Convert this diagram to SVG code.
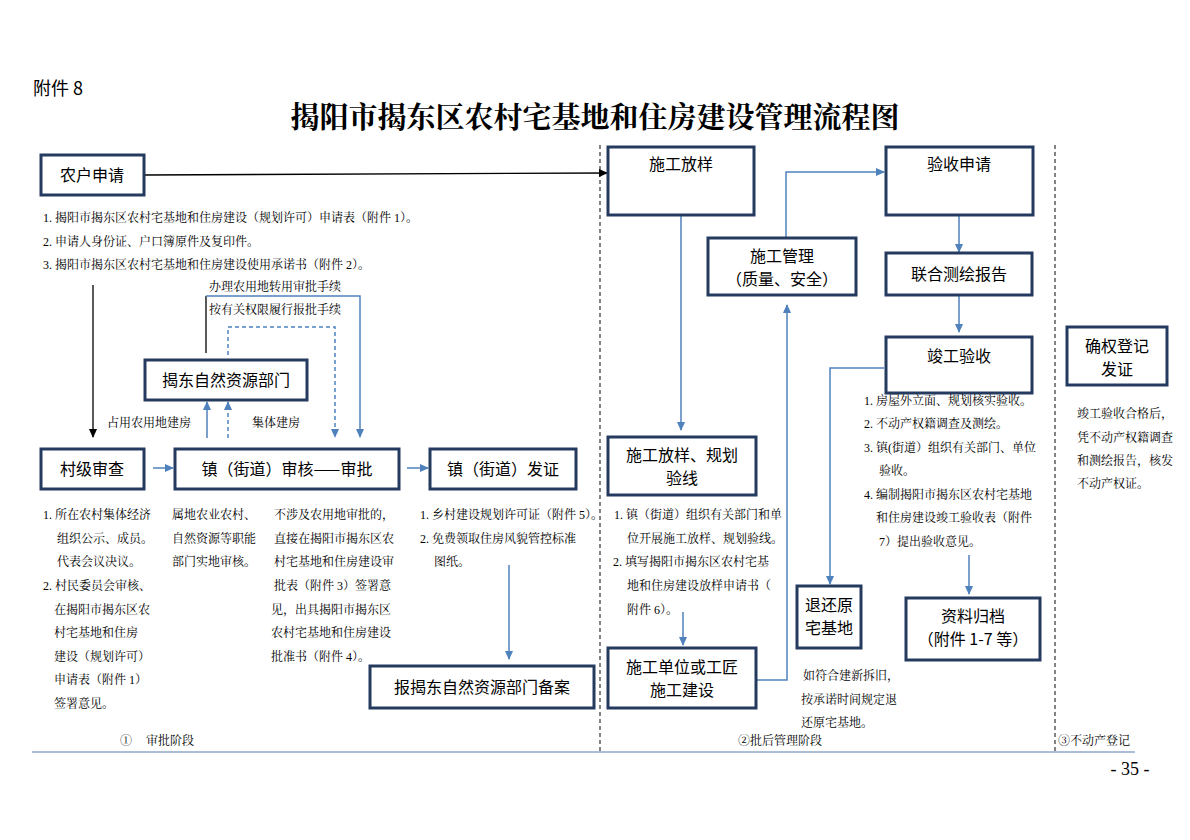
<svg xmlns="http://www.w3.org/2000/svg" width="1190" height="840" viewBox="0 0 1190 840">
<style>
.box{fill:#fff;stroke:#243a5e;stroke-width:3}
.bt{font-family:"Noto Sans CJK SC",sans-serif;font-size:16px;fill:#000;text-anchor:middle}
.st{font-family:"Liberation Serif","Noto Serif CJK SC","Noto Sans CJK SC",serif;font-size:12px;fill:#000}
.bl{stroke:#4f81bd;stroke-width:1.5;fill:none}
.bk{stroke:#000;stroke-width:1.3;fill:none}
.dv{stroke:#333;stroke-width:1.2;stroke-dasharray:4,3;fill:none}
</style>
<defs>
<marker id="ab" markerWidth="10" markerHeight="10" refX="8" refY="5" orient="auto" markerUnits="userSpaceOnUse"><path d="M0,1 L9,5 L0,9 z" fill="#4f81bd"/></marker>
<marker id="ak" markerWidth="10" markerHeight="10" refX="8" refY="5" orient="auto" markerUnits="userSpaceOnUse"><path d="M0,1 L9,5 L0,9 z" fill="#000"/></marker>
</defs>
<rect width="1190" height="840" fill="#fff"/>
<text x="33" y="95" font-family="Noto Sans CJK SC,sans-serif" font-size="18">附件 8</text>
<text x="595" y="128" text-anchor="middle" font-family="Noto Serif CJK SC,Noto Sans CJK SC,serif" font-weight="bold" font-size="29">揭阳市揭东区农村宅基地和住房建设管理流程图</text>
<line class="dv" x1="600" y1="145" x2="600" y2="752"/>
<line class="dv" x1="1055" y1="145" x2="1055" y2="752"/>
<line x1="32" y1="752" x2="1135" y2="752" stroke="#8fa8c8" stroke-width="1.5"/>
<g id="connectors">
<line class="bk" x1="144" y1="175" x2="607" y2="173" marker-end="url(#ak)"/>
<line class="bk" x1="93" y1="285" x2="93" y2="437" marker-end="url(#ak)"/>
<line class="bl" x1="153" y1="468" x2="173" y2="468" marker-end="url(#ab)"/>
<line class="bl" x1="407" y1="468" x2="428" y2="468" marker-end="url(#ab)"/>
<line class="bl" x1="207" y1="438" x2="207" y2="402" marker-end="url(#ab)"/>
<line class="bl" x1="228" y1="438" x2="228" y2="402" stroke-dasharray="4,3" marker-end="url(#ab)"/>
<line class="bk" x1="206" y1="353" x2="206" y2="296"/>
<polyline class="bl" points="206,296 360,296 360,437" marker-end="url(#ab)"/>
<polyline class="bl" points="228,355 228,327 335,327 335,437" stroke-dasharray="4,3" marker-end="url(#ab)"/>
<line class="bl" x1="509" y1="565" x2="509" y2="659" marker-end="url(#ab)"/>
<line class="bl" x1="681" y1="208" x2="681" y2="430" marker-end="url(#ab)"/>
<line class="bl" x1="683" y1="612" x2="683" y2="645" marker-end="url(#ab)"/>
<polyline class="bl" points="756,680 787,680 787,305" marker-end="url(#ab)"/>
<polyline class="bl" points="786,238 786,172 884,172" marker-end="url(#ab)"/>
<line class="bl" x1="959" y1="215" x2="959" y2="252" marker-end="url(#ab)"/>
<line class="bl" x1="959" y1="296" x2="959" y2="332" marker-end="url(#ab)"/>
<polyline class="bl" points="884,368 830,368 830,584" marker-end="url(#ab)"/>
<line class="bl" x1="969" y1="555" x2="969" y2="594" marker-end="url(#ab)"/>
</g>
<g id="n1"><rect class="box" x="41" y="155" width="103" height="40"/><text class="bt" x="92" y="181">农户申请</text></g>
<g id="n2"><rect class="box" x="41" y="449" width="103" height="40"/><text class="bt" x="92" y="475">村级审查</text></g>
<g id="n3"><rect class="box" x="175" y="449" width="224" height="40"/><text class="bt" x="287" y="475">镇（街道）审核——审批</text></g>
<g id="n4"><rect class="box" x="430" y="449" width="146" height="40"/><text class="bt" x="503" y="475">镇（街道）发证</text></g>
<g id="n5"><rect class="box" x="145" y="360" width="162" height="40"/><text class="bt" x="226" y="386">揭东自然资源部门</text></g>
<g id="n6"><rect class="box" x="370" y="666" width="224" height="42"/><text class="bt" x="482" y="693">报揭东自然资源部门备案</text></g>
<g id="n7"><rect class="box" x="608" y="147" width="146" height="68"/><text class="bt" x="681" y="170">施工放样</text></g>
<g id="n8"><rect class="box" x="708" y="238" width="148" height="57"/><text class="bt" x="782" y="262">施工管理</text><text class="bt" x="782" y="285">（质量、安全）</text></g>
<g id="n9"><rect class="box" x="886" y="147" width="147" height="68"/><text class="bt" x="959" y="170">验收申请</text></g>
<g id="n10"><rect class="box" x="886" y="253" width="146" height="42"/><text class="bt" x="959" y="280">联合测绘报告</text></g>
<g id="n11"><rect class="box" x="886" y="337" width="146" height="56"/><text class="bt" x="959" y="362">竣工验收</text></g>
<g id="n12"><rect class="box" x="1067" y="327" width="100" height="58"/><text class="bt" x="1117" y="352">确权登记</text><text class="bt" x="1117" y="375">发证</text></g>
<g id="n13"><rect class="box" x="608" y="437" width="148" height="58"/><text class="bt" x="682" y="461">施工放样、规划</text><text class="bt" x="682" y="484">验线</text></g>
<g id="n14"><rect class="box" x="608" y="648" width="148" height="60"/><text class="bt" x="682" y="673">施工单位或工匠</text><text class="bt" x="682" y="696">施工建设</text></g>
<g id="n15"><rect class="box" x="797" y="586" width="64" height="62"/><text class="bt" x="829" y="611">退还原</text><text class="bt" x="829" y="634">宅基地</text></g>
<g id="n16"><rect class="box" x="906" y="598" width="134" height="62"/><text class="bt" x="973" y="622">资料归档</text><text class="bt" x="973" y="645">（附件 1-7 等）</text></g>
<g id="texts">
<text class="st" x="43" y="222">1. 揭阳市揭东区农村宅基地和住房建设（规划许可）申请表（附件 1）。</text>
<text class="st" x="43" y="246">2. 申请人身份证、户口簿原件及复印件。</text>
<text class="st" x="43" y="269">3. 揭阳市揭东区农村宅基地和住房建设使用承诺书（附件 2）。</text>
<text class="st" x="209" y="291">办理农用地转用审批手续</text>
<text class="st" x="209" y="314">按有关权限履行报批手续</text>
<text class="st" x="107" y="427">占用农用地建房</text>
<text class="st" x="252" y="427">集体建房</text>
<text class="st" x="43" y="519">1. 所在农村集体经济</text>
<text class="st" x="57" y="543">组织公示、成员。</text>
<text class="st" x="57" y="566">代表会议决议。</text>
<text class="st" x="43" y="590">2. 村民委员会审核、</text>
<text class="st" x="54" y="614">在揭阳市揭东区农</text>
<text class="st" x="54" y="637">村宅基地和住房</text>
<text class="st" x="54" y="661">建设（规划许可）</text>
<text class="st" x="54" y="684">申请表（附件 1）</text>
<text class="st" x="54" y="708">签署意见。</text>
<text class="st" x="172" y="519">属地农业农村、</text>
<text class="st" x="172" y="543">自然资源等职能</text>
<text class="st" x="172" y="566">部门实地审核。</text>
<text class="st" x="274" y="519">不涉及农用地审批的，</text>
<text class="st" x="274" y="543">直接在揭阳市揭东区农</text>
<text class="st" x="274" y="566">村宅基地和住房建设审</text>
<text class="st" x="274" y="590">批表（附件 3）签署意</text>
<text class="st" x="271" y="614">见，出具揭阳市揭东区</text>
<text class="st" x="271" y="637">农村宅基地和住房建设</text>
<text class="st" x="271" y="661">批准书（附件 4）。</text>
<text class="st" x="420" y="519">1. 乡村建设规划许可证（附件 5）。</text>
<text class="st" x="420" y="543">2. 免费领取住房风貌管控标准</text>
<text class="st" x="434" y="566">图纸。</text>
<text class="st" x="614" y="519">1. 镇（街道）组织有关部门和单</text>
<text class="st" x="627" y="543">位开展施工放样、规划验线。</text>
<text class="st" x="613" y="566">2. 填写揭阳市揭东区农村宅基</text>
<text class="st" x="627" y="590">地和住房建设放样申请书（</text>
<text class="st" x="627" y="614">附件 6）。</text>
<text class="st" x="803" y="680">如符合建新拆旧，</text>
<text class="st" x="801" y="704">按承诺时间规定退</text>
<text class="st" x="801" y="727">还原宅基地。</text>
<text class="st" x="864" y="405">1. 房屋外立面、规划核实验收。</text>
<text class="st" x="864" y="428">2. 不动产权籍调查及测绘。</text>
<text class="st" x="864" y="452">3. 镇(街道）组织有关部门、单位</text>
<text class="st" x="879" y="475">验收。</text>
<text class="st" x="864" y="499">4. 编制揭阳市揭东区农村宅基地</text>
<text class="st" x="876" y="522">和住房建设竣工验收表（附件</text>
<text class="st" x="879" y="546">7）提出验收意见。</text>
<text class="st" x="1077" y="418" font-size="10">竣工验收合格后，</text>
<text class="st" x="1077" y="442" font-size="10">凭不动产权籍调查</text>
<text class="st" x="1077" y="465" font-size="10">和测绘报告，核发</text>
<text class="st" x="1077" y="488" font-size="10">不动产权证。</text>
<text class="st" x="120" y="745">①</text>
<text class="st" x="146" y="745">审批阶段</text>
<text class="st" x="738" y="745">②批后管理阶段</text>
<text class="st" x="1058" y="745">③不动产登记</text>
<text x="1130" y="775" text-anchor="middle" font-family="Liberation Serif,serif" font-size="18">- 35 -</text>
</g>
</svg>
